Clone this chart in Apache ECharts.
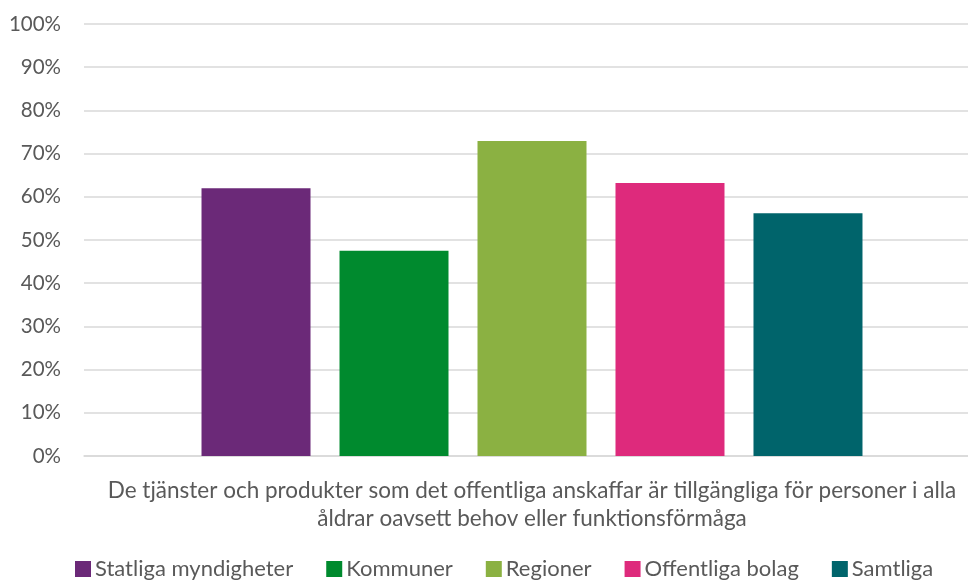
<!DOCTYPE html>
<html><head><meta charset="utf-8">
<script src="https://cdn.jsdelivr.net/npm/echarts@6/dist/echarts.min.js"></script>
<style>html,body{margin:0;padding:0;background:#fff}#c{width:968px;height:580px}</style>
</head><body><div id="c"></div>
<script>
const categories = ['De tjänster och produkter som det offentliga anskaffar är tillgängliga för personer i alla\nåldrar oavsett behov eller funktionsförmåga'];
const seriesNames = ['Statliga myndigheter', 'Kommuner', 'Regioner', 'Offentliga bolag', 'Samtliga'];
const seriesValues = [[62.0], [47.5], [72.9], [63.2], [56.2]];
const seriesColors = ['#6B2978', '#008A2E', '#8BB142', '#DE2A7C', '#00646B'];
const yTicks = [0, 10, 20, 30, 40, 50, 60, 70, 80, 90, 100];

const chart = echarts.init(document.getElementById('c'), null, {renderer: 'canvas'});
const font = 'Lato';
const yMin = yTicks[0], yMax = yTicks[yTicks.length - 1];
chart.setOption({
  animation: false,
  textStyle: {fontFamily: font},
  grid: [
    {left: 84, top: 24, right: 0, height: 432, containLabel: false},
    {left: 96, top: 24, width: 872, height: 432, containLabel: false}
  ],
  legend: {
    top: 553, left: 70, padding: [5, 5],
    itemWidth: 16, itemHeight: 16, itemGap: 33,
    icon: 'rect',
    textStyle: {fontSize: 22, color: '#595959', fontFamily: font, padding: [0, 0, 0, -1]},
    data: seriesNames
  },
  xAxis: [
    {
      gridIndex: 0, type: 'category', data: categories,
      axisLine: {show: true, lineStyle: {color: '#d9d9d9', width: 1.5}},
      axisTick: {show: false}, axisLabel: {show: false}
    },
    {
      gridIndex: 1, type: 'category', data: categories,
      axisLine: {show: false}, axisTick: {show: false},
      axisLabel: {color: '#595959', fontSize: 22.5, lineHeight: 28, margin: 21, align: 'center'}
    }
  ],
  yAxis: [
    {
      gridIndex: 0, type: 'value', min: yMin, max: yMax, interval: 10,
      axisLine: {show: false}, axisTick: {show: false},
      splitLine: {lineStyle: {color: '#d9d9d9', width: 1.5}},
      axisLabel: {color: '#595959', fontSize: 20.5, margin: 23, formatter: v => v + '%'}
    },
    {
      gridIndex: 1, type: 'value', min: yMin, max: yMax, interval: 10,
      axisLine: {show: false}, axisTick: {show: false},
      splitLine: {show: false}, axisLabel: {show: false}
    }
  ],
  series: seriesNames.map((n, i) => ({
    name: n, type: 'bar', data: seriesValues[i],
    xAxisIndex: 1, yAxisIndex: 1,
    barWidth: 109, barGap: '26.6%',
    itemStyle: {color: seriesColors[i]}
  }))
});
</script></body></html>
